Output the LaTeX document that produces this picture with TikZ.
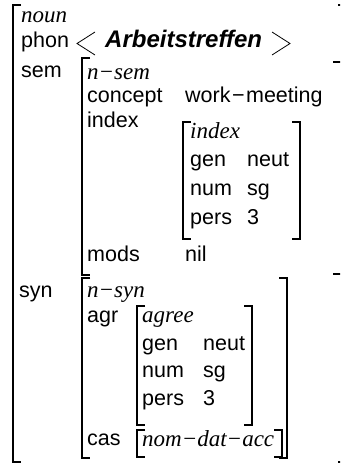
\documentclass[tikz,border=0pt]{standalone}
\usepackage{fontspec}
\setmainfont{Liberation Serif}
\setsansfont{Liberation Sans}
\begin{document}
\begin{tikzpicture}[x=1pt,y=-1pt,
  lbl/.style={anchor=base west, inner sep=0pt, font=\sffamily\fontsize{21.5}{26}\selectfont},
  typ/.style={anchor=base west, inner sep=0pt, font=\rmfamily\itshape\fontsize{23}{27}\selectfont},
  wrd/.style={anchor=base west, inner sep=0pt, font=\sffamily\bfseries\itshape\fontsize{24}{27}\selectfont},
  brk/.style={line width=1.1pt},
  ang/.style={line width=0.8pt}]
\useasboundingbox (0,0) rectangle (340,463);
\clip (0,0) rectangle (340,463);
% outer brackets
\draw[brk] (21,5) -- (13,5) -- (13,462) -- (21,462);
\draw[brk] (338,5) -- (347,5) -- (347,462) -- (338,462);
% sem
\draw[brk] (90,58) -- (82,58) -- (82,275) -- (90,275);
\draw[brk] (333,62) -- (342,62) -- (342,274) -- (333,274);
% index
\draw[brk] (191,122) -- (183,122) -- (183,239) -- (191,239);
\draw[brk] (292,122) -- (300,122) -- (300,239) -- (292,239);
% n-syn
\draw[brk] (90,278) -- (82,278) -- (82,458) -- (90,458);
\draw[brk] (279,278) -- (287,278) -- (287,458) -- (279,458);
% agree
\draw[brk] (145,306) -- (137,306) -- (137,425) -- (145,425);
\draw[brk] (244,306) -- (252,306) -- (252,425) -- (244,425);
% nom-dat-acc
\draw[brk] (145,430) -- (137,430) -- (137,457) -- (145,457);
\draw[brk] (274,430) -- (282,430) -- (282,457) -- (274,457);
% texts
\node[typ] (noun) at (21,23) {noun};
\node[lbl] (phon) at (21,47) {phon};
\draw[ang] (95,32) -- (77,43.5) -- (95,55);
\node[wrd] (arb) at (105,47) {Arbeitstreffen};
\draw[ang] (272,32) -- (290,43.5) -- (272,55);
\node[lbl] (sem) at (21,77) {sem};
\node[typ] (nsem) at (87,79) {n−sem};
\node[lbl] (concept) at (87,102) {concept};
\node[lbl] (wm) at (185,102) {work\kern1.5pt−\kern1.5pt meeting};
\node[lbl] (index) at (87,127) {index};
\node[typ] (indext) at (190,138) {index};
\node[lbl] (gen1) at (190,166) {gen};
\node[lbl] (neut1) at (247,166) {neut};
\node[lbl] (num1) at (190,195) {num};
\node[lbl] (sg1) at (247,195) {sg};
\node[lbl] (pers1) at (190,224) {pers};
\node[lbl] (three1) at (247,224) {3};
\node[lbl] (mods) at (87,261) {mods};
\node[lbl] (nil) at (185,261) {nil};
\node[lbl] (syn) at (19,297) {syn};
\node[typ] (nsyn) at (87,297) {n−syn};
\node[lbl] (agr) at (87,322) {agr};
\node[typ] (agree) at (142,322) {agree};
\node[lbl] (gen2) at (142,350) {gen};
\node[lbl] (neut2) at (203,350) {neut};
\node[lbl] (num2) at (142,377) {num};
\node[lbl] (sg2) at (203,377) {sg};
\node[lbl] (pers2) at (142,405) {pers};
\node[lbl] (three2) at (203,405) {3};
\node[lbl] (cas) at (87,445) {cas};
\node[typ] (nda) at (142,446) {nom−dat−acc};
\end{tikzpicture}
\end{document}
